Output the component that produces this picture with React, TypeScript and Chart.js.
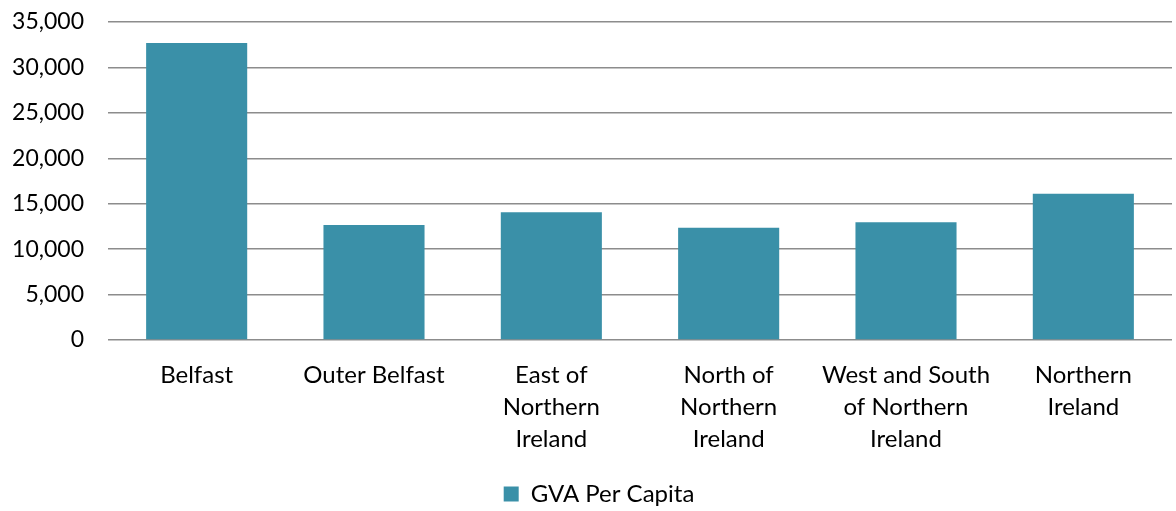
import React, { useEffect, useRef } from "react";
import { Chart, registerables } from "chart.js";

Chart.register(...registerables);

const categories: (string | string[])[] = [
  "Belfast",
  "Outer Belfast",
  ["East of", "Northern", "Ireland"],
  ["North of", "Northern", "Ireland"],
  ["West and South", "of Northern", "Ireland"],
  ["Northern", "Ireland"],
];
const gvaPerCapita = [32700, 12650, 14050, 12350, 12950, 16100];
const seriesLabel = "GVA Per Capita";
const yMin = 0;
const yMax = 35000;
const yStep = 5000;

const legendShift = {
  id: "legendShift",
  afterLayout(chart: any) {
    const l = chart.legend;
    if (l) {
      l.left += 13;
      l.right += 13;
    }
  },
};

export default function App() {
  const ref = useRef<HTMLCanvasElement | null>(null);
  useEffect(() => {
    if (!ref.current) return;
    const family = "Lato, 'Open Sans', sans-serif";
    const chart = new Chart(ref.current, {
      type: "bar",
      data: {
        labels: categories,
        datasets: [
          {
            label: seriesLabel,
            data: gvaPerCapita,
            backgroundColor: "#3A90A8",
            borderWidth: 0,
            barPercentage: 0.57,
            categoryPercentage: 1,
          },
        ],
      },
      plugins: [legendShift],
      options: {
        animation: false,
        responsive: true,
        maintainAspectRatio: false,
        layout: { padding: { top: 22, right: 4, left: 0, bottom: -5 } },
        plugins: {
          legend: {
            position: "bottom",
            labels: {
              font: { family, size: 24, lineHeight: 1.2 },
              color: "#000",
              boxWidth: 15,
              boxHeight: 15,
              padding: 0,
            },
          },
          tooltip: { enabled: false },
        },
        scales: {
          x: {
            grid: { display: false, drawTicks: false },
            border: { display: false },
            ticks: {
              font: { family, size: 24, lineHeight: 1.333 },
              color: "#000",
              padding: 19,
              maxRotation: 0,
              autoSkip: false,
            },
            afterFit: (s: any) => {
              s.height = 142;
            },
          },
          y: {
            min: yMin,
            max: yMax,
            grid: { color: "#8c8c8c", lineWidth: 1.5, drawTicks: false },
            border: { display: false },
            ticks: {
              stepSize: yStep,
              font: { family, size: 23, lineHeight: 1.2 },
              color: "#000",
              padding: 24,
              callback: (v: any) => Number(v).toLocaleString("en-US"),
            },
            afterFit: (s: any) => {
              s.width = 108;
              s.paddingTop = 0;
              s.paddingBottom = 0;
            },
          },
        },
      },
    });
    return () => chart.destroy();
  }, []);
  return (
    <div style={{ position: "fixed", left: 0, top: 0, width: 1176, height: 511, background: "#fff" }}>
      <canvas ref={ref} />
    </div>
  );
}
